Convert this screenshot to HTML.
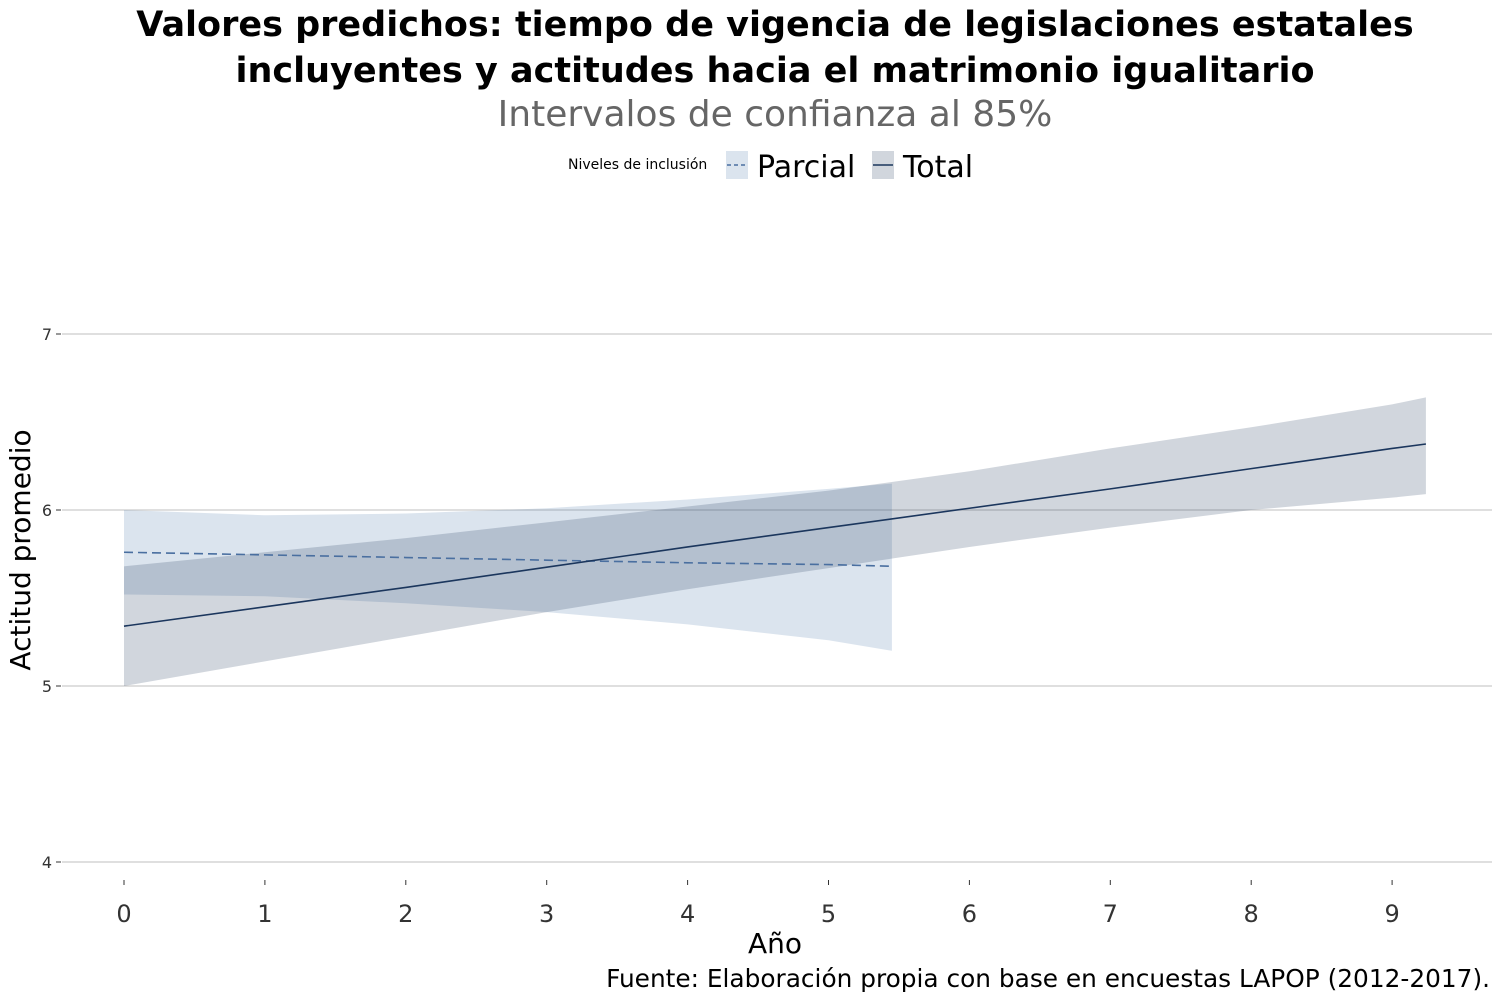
<!DOCTYPE html>
<html><head><meta charset="utf-8"><style>
body{margin:0;background:#fff;}
svg text{font-family:"DejaVu Sans","Liberation Sans",sans-serif;}
</style></head><body>
<svg width="1500" height="1000" xmlns="http://www.w3.org/2000/svg">
<text x="775" y="36" text-anchor="middle" font-size="35" font-weight="bold" fill="#000">Valores predichos: tiempo de vigencia de legislaciones estatales</text>
<text x="775" y="82" text-anchor="middle" font-size="35" font-weight="bold" fill="#000">incluyentes y actitudes hacia el matrimonio igualitario</text>
<text x="775" y="126" text-anchor="middle" font-size="36" fill="#666">Intervalos de confianza al 85%</text>
<g>
<text x="568" y="169" font-size="14" fill="#000">Niveles de inclusión</text>
<rect x="726" y="151" width="22" height="28" fill="rgba(75,119,170,0.2)"/>
<line x1="727" y1="165" x2="747" y2="165" stroke="#4a6fa0" stroke-dasharray="4,3" stroke-width="1.5"/>
<text x="757" y="177" font-size="30" fill="#000">Parcial</text>
<rect x="872" y="151" width="22" height="28" fill="rgba(25,50,85,0.2)"/>
<line x1="873" y1="165" x2="893" y2="165" stroke="#1b365d" stroke-width="1.5"/>
<text x="903" y="177" font-size="30" fill="#000">Total</text>
</g>
<g id="grid"></g><g id="plot"></g><g id="axes"></g>
<text x="775" y="953" text-anchor="middle" font-size="28" fill="#000">Año</text>
<text transform="translate(30,550) rotate(-90)" text-anchor="middle" font-size="28" fill="#000">Actitud promedio</text>
<text x="1490" y="987" text-anchor="end" font-size="24.8" fill="#000">Fuente: Elaboración propia con base en encuestas LAPOP (2012-2017).</text>
</svg>
<script>
const parcialX=[0,1,2,3,4,5,5.45];
const parcialFit=[5.76,5.745,5.73,5.715,5.70,5.69,5.68];
const parcialUpper=[6.0,5.97,5.98,6.01,6.06,6.12,6.15];
const parcialLower=[5.52,5.51,5.47,5.42,5.35,5.26,5.20];
const totalX=[0,1,2,3,4,5,6,7,8,9,9.24];
const totalFit=[5.34,5.45,5.56,5.675,5.79,5.90,6.01,6.12,6.235,6.35,6.375];
const totalUpper=[5.68,5.76,5.84,5.93,6.02,6.11,6.22,6.35,6.47,6.60,6.64];
const totalLower=[5.0,5.14,5.28,5.42,5.55,5.67,5.79,5.90,6.0,6.07,6.09];
const xTicks=[0,1,2,3,4,5,6,7,8,9];
const yTicks=[4,5,6,7];
const NS="http://www.w3.org/2000/svg";
const sx=v=>124+v*140.9;
const sy=v=>862-(v-4)*176;
function mk(t,a,p){const e=document.createElementNS(NS,t);for(const k in a)e.setAttribute(k,a[k]);p.appendChild(e);return e;}
const grid=document.getElementById('grid'),plot=document.getElementById('plot'),axes=document.getElementById('axes');
yTicks.forEach(v=>{
const l=mk('line',{x1:62,x2:1492,y1:sy(v),y2:sy(v),stroke:'#ccc','stroke-width':1.2},grid);


mk('line',{x1:56,x2:61,y1:sy(v),y2:sy(v),stroke:'#333'},axes);
const t=mk('text',{x:52,y:sy(v)+6,'text-anchor':'end','font-size':16,fill:'#333'},axes);t.textContent=v;


});
xTicks.forEach(v=>{
mk('line',{x1:sx(v),x2:sx(v),y1:880,y2:885,stroke:'#333'},axes);
const t=mk('text',{x:sx(v),y:922,'text-anchor':'middle','font-size':24,fill:'#333'},axes);t.textContent=v;


});
function ribbon(xs,up,lo,fill,name){
let d='M'+xs.map((x,i)=>sx(x)+','+sy(up[i])).join('L');
for(let i=xs.length-1;i>=0;i--)d+='L'+sx(xs[i])+','+sy(lo[i]);
const p=mk('path',{d:d+'Z',fill:fill},plot);


}
function line(xs,ys,col,dash,name){
const p=mk('polyline',{points:xs.map((x,i)=>sx(x)+','+sy(ys[i])).join(' '),fill:'none',stroke:col,'stroke-width':1.6},plot);
if(dash)p.setAttribute('stroke-dasharray',dash);


}
ribbon(parcialX,parcialUpper,parcialLower,'rgba(75,119,170,0.2)','parcial-ribbon');
ribbon(totalX,totalUpper,totalLower,'rgba(25,50,85,0.2)','total-ribbon');
line(parcialX,parcialFit,'#4a6fa0','9,5','parcial-line');
line(totalX,totalFit,'#1b365d',null,'total-line');
</script>
</body></html>
